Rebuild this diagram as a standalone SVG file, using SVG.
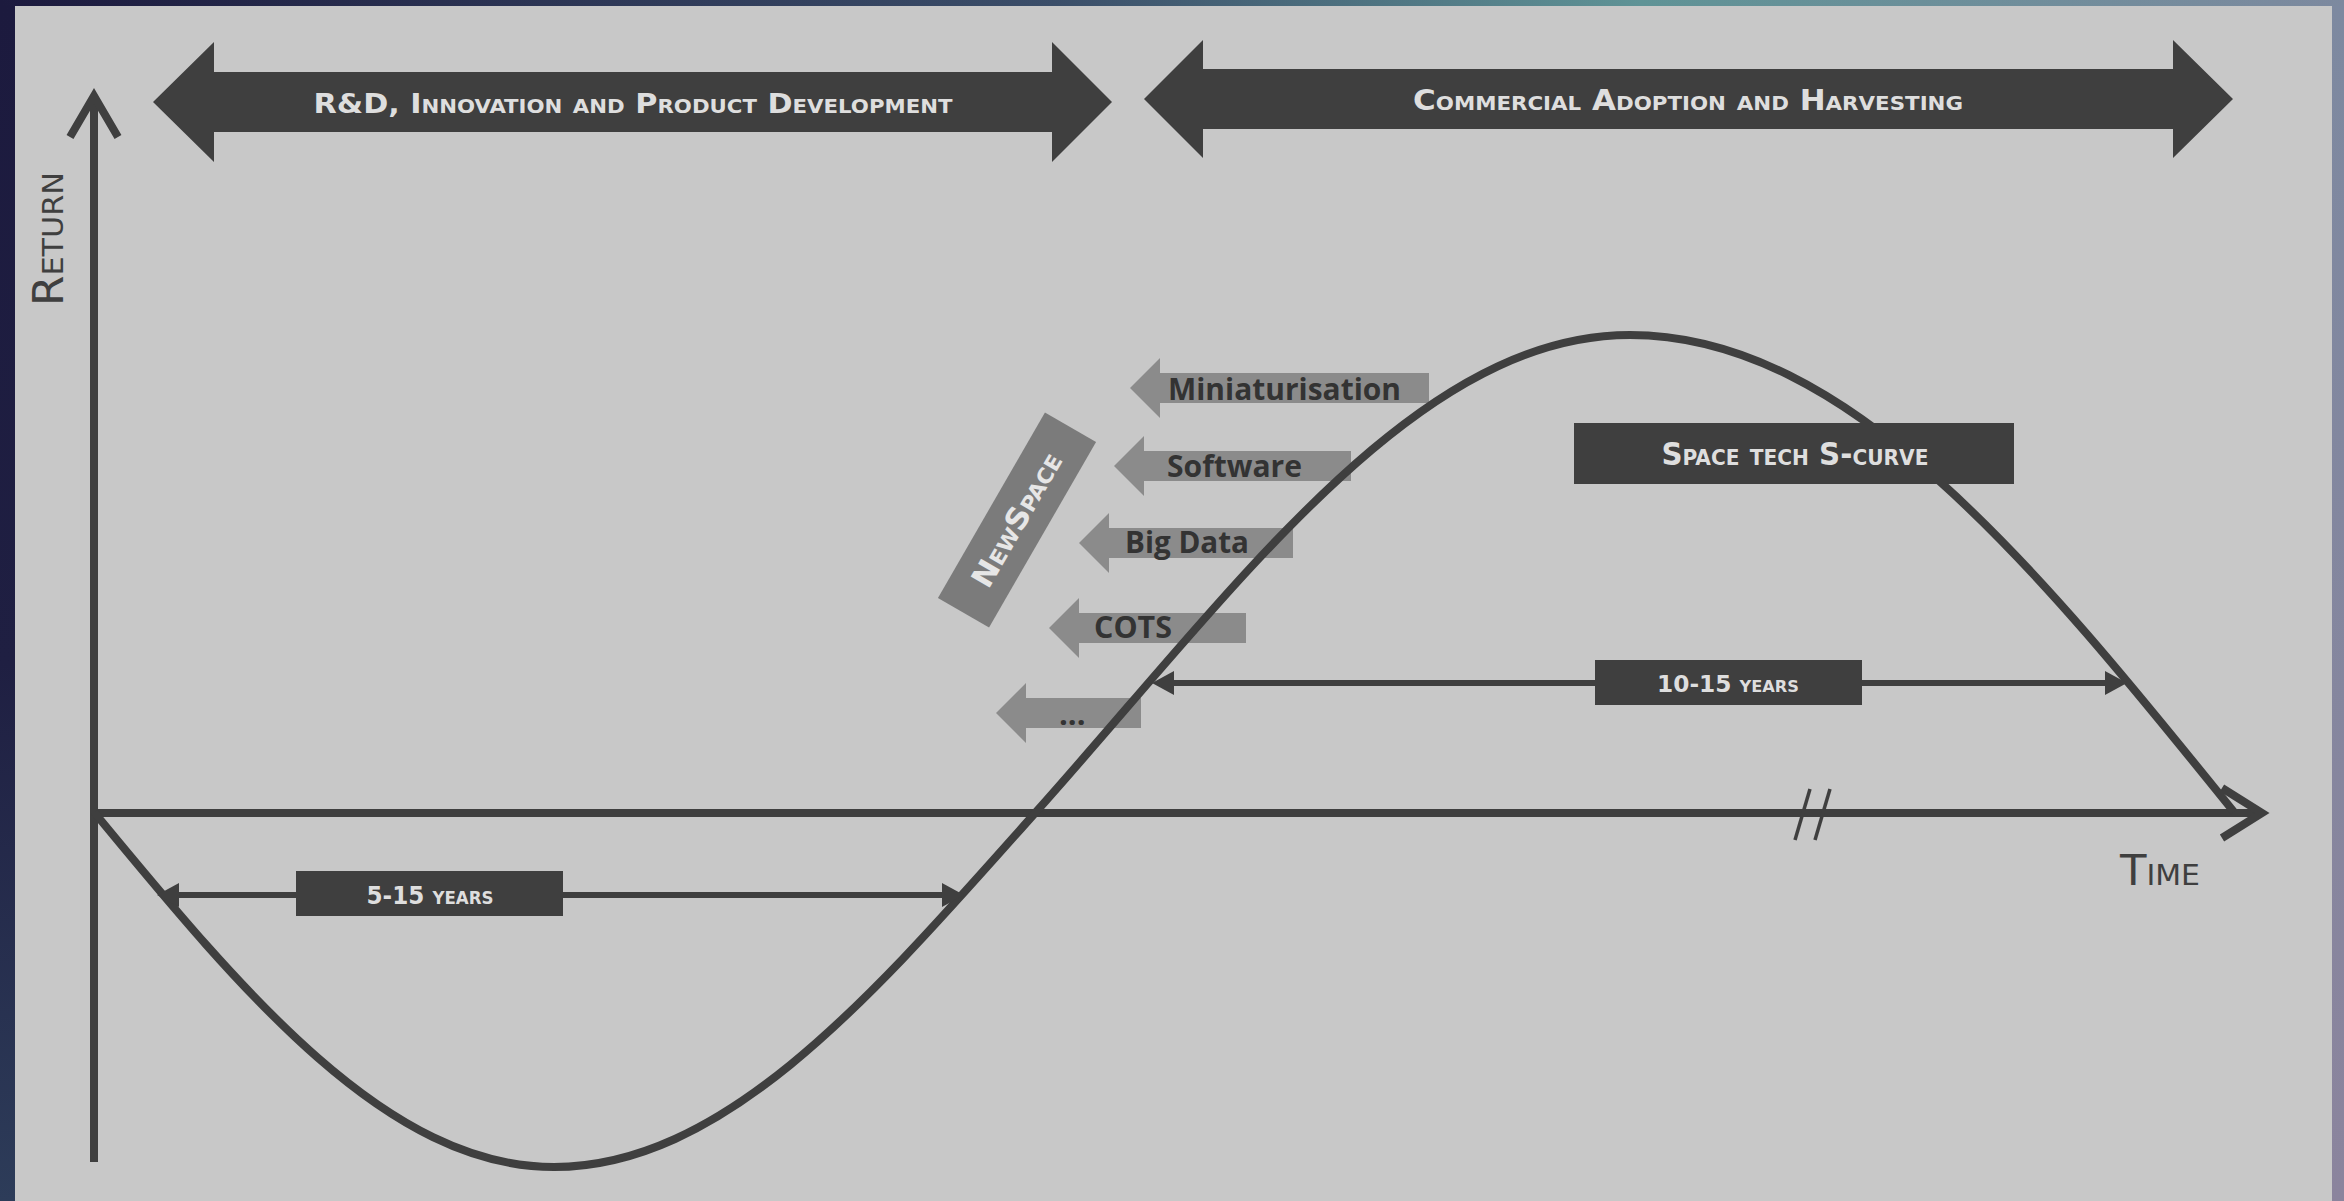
<svg xmlns="http://www.w3.org/2000/svg" width="2344" height="1201" viewBox="0 0 2344 1201">
  <defs>
    <linearGradient id="bgTop" x1="0" y1="0" x2="1" y2="0">
      <stop offset="0" stop-color="#1c1a3e"/>
      <stop offset="0.45" stop-color="#3b4e69"/>
      <stop offset="0.7" stop-color="#5f9396"/>
      <stop offset="1" stop-color="#7d899f"/>
    </linearGradient>
    <linearGradient id="bgLeft" x1="0" y1="0" x2="0" y2="1">
      <stop offset="0" stop-color="#1c1a3e"/>
      <stop offset="0.55" stop-color="#1f1f42"/>
      <stop offset="1" stop-color="#2d3c59"/>
    </linearGradient>
    <linearGradient id="bgRight" x1="0" y1="0" x2="0" y2="1">
      <stop offset="0" stop-color="#7d89a0"/>
      <stop offset="1" stop-color="#8b849d"/>
    </linearGradient>
    <marker id="dimHead" viewBox="0 -12 22 24" refX="0" refY="0" markerWidth="22" markerHeight="24" markerUnits="userSpaceOnUse" orient="auto-start-reverse">
      <path d="M0,-12 L22,0 L0,12 Z" fill="#3f3f3f"/>
    </marker>
  </defs>
  <style>
    .dark { fill: #3f3f3f; }
    .stroke { fill: none; stroke: #3f3f3f; stroke-width: 8; }
    .dim { fill: none; stroke: #3f3f3f; stroke-width: 6; }
    .driver { fill: #8b8b8b; }
    .cond { font-family: "Liberation Sans Narrow", "DejaVu Sans Condensed", "Roboto Condensed", "Liberation Sans", sans-serif; font-variant: small-caps; font-weight: bold; }
    .light { fill: #dedede; }
    .axisLabel { fill: #3f3f3f; font-weight: normal; font-size: 42px; }
    .driverText { font-family: "Open Sans", "Liberation Sans", sans-serif; font-weight: 700; font-size: 31px; fill: #333333; }
  </style>

  <!-- frame background -->
  <rect x="0" y="0" width="2344" height="1201" fill="url(#bgTop)"/>
  <rect x="0" y="6" width="15" height="1195" fill="url(#bgLeft)"/>
  <rect x="2332" y="6" width="12" height="1195" fill="url(#bgRight)"/>
  <rect x="15" y="6" width="2317" height="1195" fill="#c8c8c8"/>

  <!-- phase banners -->
  <g id="phase-rd">
    <polygon class="dark" points="153,102 214,42 214,72 1052,72 1052,42 1112,102 1052,162 1052,132 214,132 214,162"/>
    <text class="cond light" x="633" y="113" font-size="27" text-anchor="middle" textLength="639" lengthAdjust="spacingAndGlyphs">R&amp;D, Innovation and Product Development</text>
  </g>
  <g id="phase-commercial">
    <polygon class="dark" points="1144,99 1203,40 1203,69 2173,69 2173,40 2233,99 2173,158 2173,129 1203,129 1203,158"/>
    <text class="cond light" x="1688" y="110" font-size="29" text-anchor="middle" textLength="550" lengthAdjust="spacingAndGlyphs">Commercial Adoption and Harvesting</text>
  </g>

  <!-- technology drivers -->
  <g id="driver-miniaturisation">
    <polygon class="driver" points="1130,388 1160,358 1160,373 1429,373 1429,403 1160,403 1160,418"/>
    <text class="driverText" x="1168" y="400" textLength="233" lengthAdjust="spacingAndGlyphs">Miniaturisation</text>
  </g>
  <g id="driver-software">
    <polygon class="driver" points="1114,466 1144,436 1144,451 1351,451 1351,481 1144,481 1144,496"/>
    <text class="driverText" x="1167" y="477" textLength="135" lengthAdjust="spacingAndGlyphs">Software</text>
  </g>
  <g id="driver-bigdata">
    <polygon class="driver" points="1079,543 1109,513 1109,528 1293,528 1293,558 1109,558 1109,573"/>
    <text class="driverText" x="1125" y="553" textLength="124" lengthAdjust="spacingAndGlyphs">Big Data</text>
  </g>
  <g id="driver-cots">
    <polygon class="driver" points="1049,628 1079,598 1079,613 1246,613 1246,643 1079,643 1079,658"/>
    <text class="driverText" x="1094" y="638" textLength="78" lengthAdjust="spacingAndGlyphs">COTS</text>
  </g>
  <g id="driver-more">
    <polygon class="driver" points="996,713 1026,683 1026,698 1141,698 1141,728 1026,728 1026,743"/>
    <text class="driverText" x="1059" y="725">...</text>
  </g>
  <g id="newspace" transform="translate(1017,520) rotate(-60)">
    <rect x="-107" y="-29.5" width="214" height="59" fill="#7b7b7b"/>
    <text class="cond" x="0" y="10" font-size="30" fill="#e6e6e6" text-anchor="middle" textLength="150" lengthAdjust="spacingAndGlyphs">NewSpace</text>
  </g>

  <!-- axes and curve -->
  <g id="axis-return">
    <line class="stroke" x1="94" y1="1162" x2="94" y2="97"/>
    <path class="stroke" d="M70,137 L94,96 L118,137"/>
    <text class="cond axisLabel" transform="translate(63,239) rotate(-90)" text-anchor="middle" textLength="134" lengthAdjust="spacingAndGlyphs">Return</text>
  </g>
  <g id="axis-time">
    <line class="stroke" x1="90" y1="813" x2="2260" y2="813"/>
    <path class="stroke" d="M2222,788 L2262,813 L2222,838"/>
    <line stroke="#3f3f3f" stroke-width="3.5" x1="1810" y1="789" x2="1795" y2="840"/>
    <line stroke="#3f3f3f" stroke-width="3.5" x1="1830" y1="789" x2="1815" y2="840"/>
    <text class="cond axisLabel" x="2120" y="885" textLength="80" lengthAdjust="spacingAndGlyphs">Time</text>
  </g>
  <g id="s-curve">
    <path class="stroke" d="M94,812 C244,994 387.5,1167 554,1167 C728.4,1167 879,988 1036,812 C1236,588 1415,335 1630,335 C1848.6,335 2037,567.6 2234,812"/>
  </g>

  <!-- span dimension lines -->
  <g id="connectors">
    <line class="dim" x1="179" y1="895" x2="942" y2="895" marker-start="url(#dimHead)" marker-end="url(#dimHead)"/>
    <line class="dim" x1="1174" y1="683" x2="2105" y2="683" marker-start="url(#dimHead)" marker-end="url(#dimHead)"/>
  </g>

  <g id="span-5-15">
    <rect class="dark" x="296" y="871" width="267" height="45"/>
    <text class="cond light" x="430" y="904" font-size="25" text-anchor="middle" textLength="127" lengthAdjust="spacingAndGlyphs">5-15 years</text>
  </g>
  <g id="span-10-15">
    <rect class="dark" x="1595" y="660" width="267" height="45"/>
    <text class="cond light" x="1728" y="692" font-size="23" text-anchor="middle" textLength="142" lengthAdjust="spacingAndGlyphs">10-15 years</text>
  </g>
  <g id="label-scurve">
    <rect class="dark" x="1574" y="423" width="440" height="61"/>
    <text class="cond light" x="1795" y="465" font-size="32" text-anchor="middle" textLength="267" lengthAdjust="spacingAndGlyphs">Space tech S-curve</text>
  </g>
</svg>
